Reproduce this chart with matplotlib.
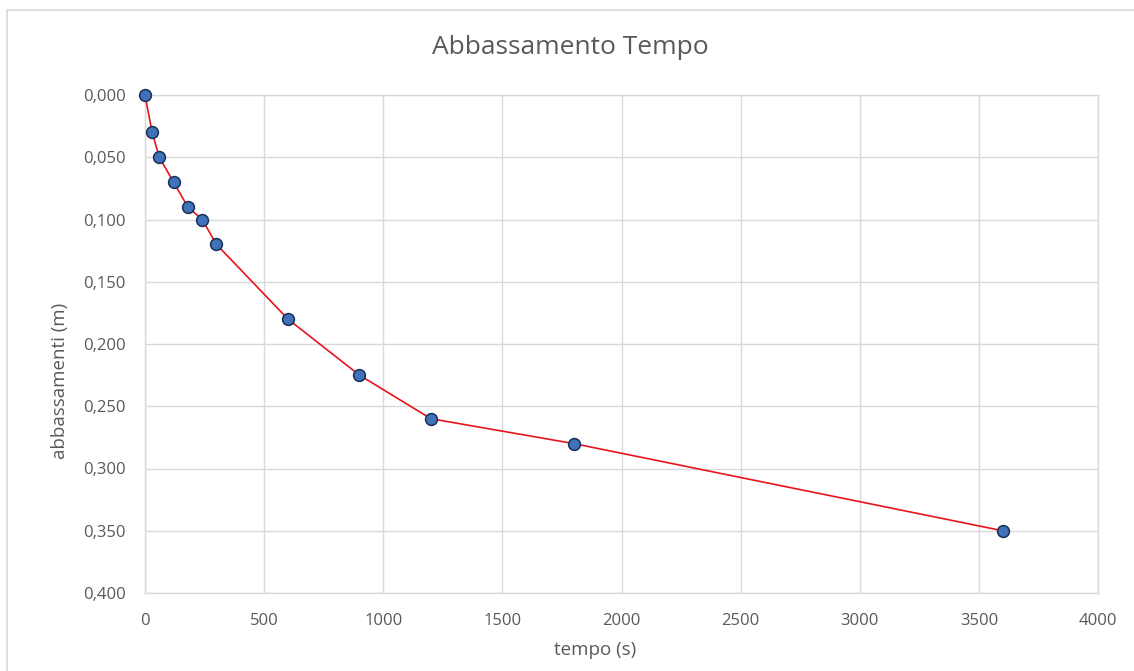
import matplotlib
matplotlib.use("Agg")
import matplotlib.pyplot as plt
from matplotlib.patches import Rectangle
from matplotlib.ticker import FuncFormatter

tempo = [0, 30, 60, 120, 180, 240, 300, 600, 900, 1200, 1800, 3600]
abbassamenti = [0.000, 0.030, 0.050, 0.070, 0.090, 0.100, 0.120, 0.180, 0.225, 0.260, 0.280, 0.350]
x_ticks = [0, 500, 1000, 1500, 2000, 2500, 3000, 3500, 4000]
y_ticks = [0.0, 0.05, 0.10, 0.15, 0.20, 0.25, 0.30, 0.35, 0.40]

plt.rcParams['font.family'] = ['Open Sans', 'DejaVu Sans']

W, H = 1134, 671
fig = plt.figure(figsize=(W / 100, H / 100), dpi=100)
fig.patches.append(Rectangle((7 / W, -0.1), 1.2, 1 - 10 / H + 0.1, transform=fig.transFigure,
                             fill=False, edgecolor='#d9d9d9', linewidth=1.2))

ax = fig.add_axes([145 / W, 1 - 593 / H, (1098 - 145) / W, (593 - 95) / H])
ax.plot(tempo, abbassamenti, color='#e8141c', linewidth=1.2, zorder=3,
        marker='o', markersize=8.5, markerfacecolor='#3f72b8',
        markeredgecolor='#1a2f55', markeredgewidth=1.1, clip_on=False)

ax.set_xlim(0, 4000)
ax.set_ylim(0.4, 0.0)
ax.set_xticks(x_ticks)
ax.set_yticks(y_ticks)
ax.yaxis.set_major_formatter(FuncFormatter(lambda v, p: f"{v:.3f}".replace('.', ',')))
ax.grid(True, color='#d9d9d9', linewidth=1.0)
ax.set_axisbelow(True)
for s in ax.spines.values():
    s.set_color('#d9d9d9')
    s.set_linewidth(1.0)
ax.tick_params(length=0, colors='#595959', labelsize=12)
ax.tick_params(axis='y', pad=14)
ax.tick_params(axis='x', pad=14.5)

fig.text(570 / W, 1 - 48 / H, 'Abbassamento Tempo', ha='center', va='center',
         fontsize=19, color='#595959')
fig.text(595 / W, 1 - 650 / H, 'tempo (s)', ha='center', va='center',
         fontsize=13.5, color='#595959')
fig.text(60 / W, 1 - 381 / H, 'abbassamenti (m)', ha='center', va='center',
         rotation=90, fontsize=13.5, color='#595959')

fig.savefig('out.png', dpi=100)
